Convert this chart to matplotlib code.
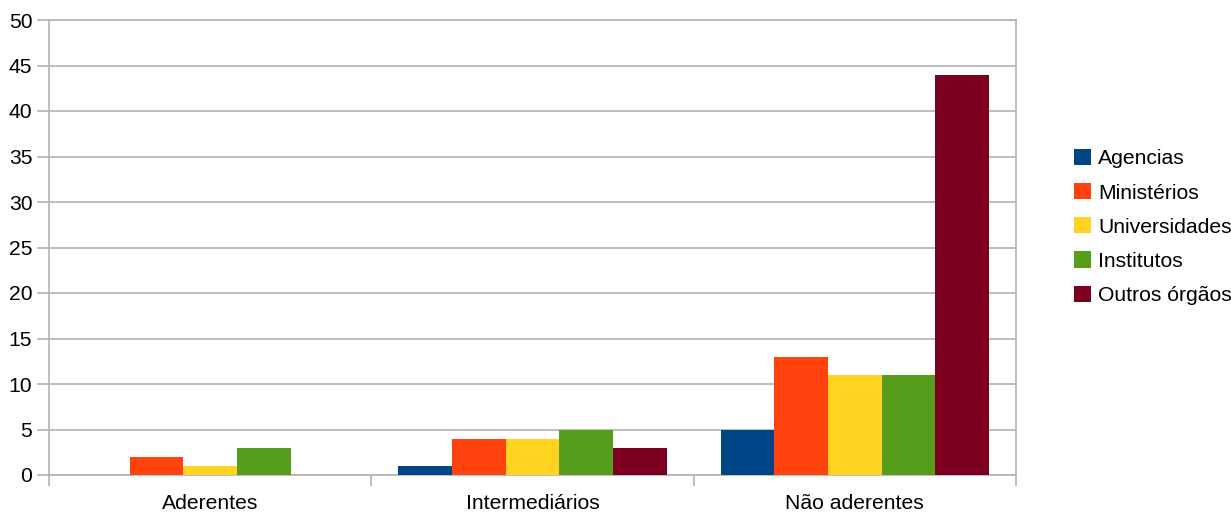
import numpy as np
import matplotlib.pyplot as plt

plt.rcParams['font.family'] = ['Liberation Sans', 'DejaVu Sans']

categories = ['Aderentes', 'Intermediários', 'Não aderentes']
series = ['Agencias', 'Ministérios', 'Universidades', 'Institutos', 'Outros órgãos']
agencias = [0, 1, 5]
ministerios = [2, 4, 13]
universidades = [1, 4, 11]
institutos = [3, 5, 11]
outros = [0, 3, 44]
colors = ['#004586', '#ff420e', '#ffd320', '#579d1c', '#7e0021']

values = [agencias, ministerios, universidades, institutos, outros]
fs = 15.2

fig = plt.figure(figsize=(12.31, 5.13), dpi=100)
ax = fig.add_axes([49 / 1231, 1 - 475 / 513, (1016 - 49) / 1231, (475 - 20) / 513])

x = np.arange(len(categories))
w = 0.8333 / len(series)
for i, (name, vals) in enumerate(zip(series, values)):
    ax.bar(x - 0.41665 + w * (i + 0.5), vals, width=w, color=colors[i],
           label=name, zorder=3)

ax.set_xlim(-0.5, len(categories) - 0.5)
ax.set_ylim(0, 50)
ax.set_yticks(range(0, 51, 5))
ax.set_xticks(x)
ax.set_xticklabels(categories)
ax.set_xticks(np.arange(-0.5, len(categories)), minor=True)
ax.tick_params(axis='x', which='major', length=0, pad=14, labelsize=fs)
ax.tick_params(axis='x', which='minor', length=8, color='#b3b3b3', width=1.2)
ax.tick_params(axis='y', length=9, color='#b3b3b3', width=1.2, pad=3, labelsize=fs)
ax.grid(axis='y', color='#b3b3b3', linewidth=1.2, zorder=0)
for s in ax.spines.values():
    s.set_color('#b3b3b3')
    s.set_linewidth(1.2)

ax.legend(loc='center left', bbox_to_anchor=(1074 / 1231, 1 - 227 / 513),
          bbox_transform=fig.transFigure, frameon=False, fontsize=fs,
          handlelength=0.8, handleheight=0.8, handletextpad=0.35,
          labelspacing=0.7, borderaxespad=0, borderpad=0)

fig.savefig('out.png', dpi=100)
